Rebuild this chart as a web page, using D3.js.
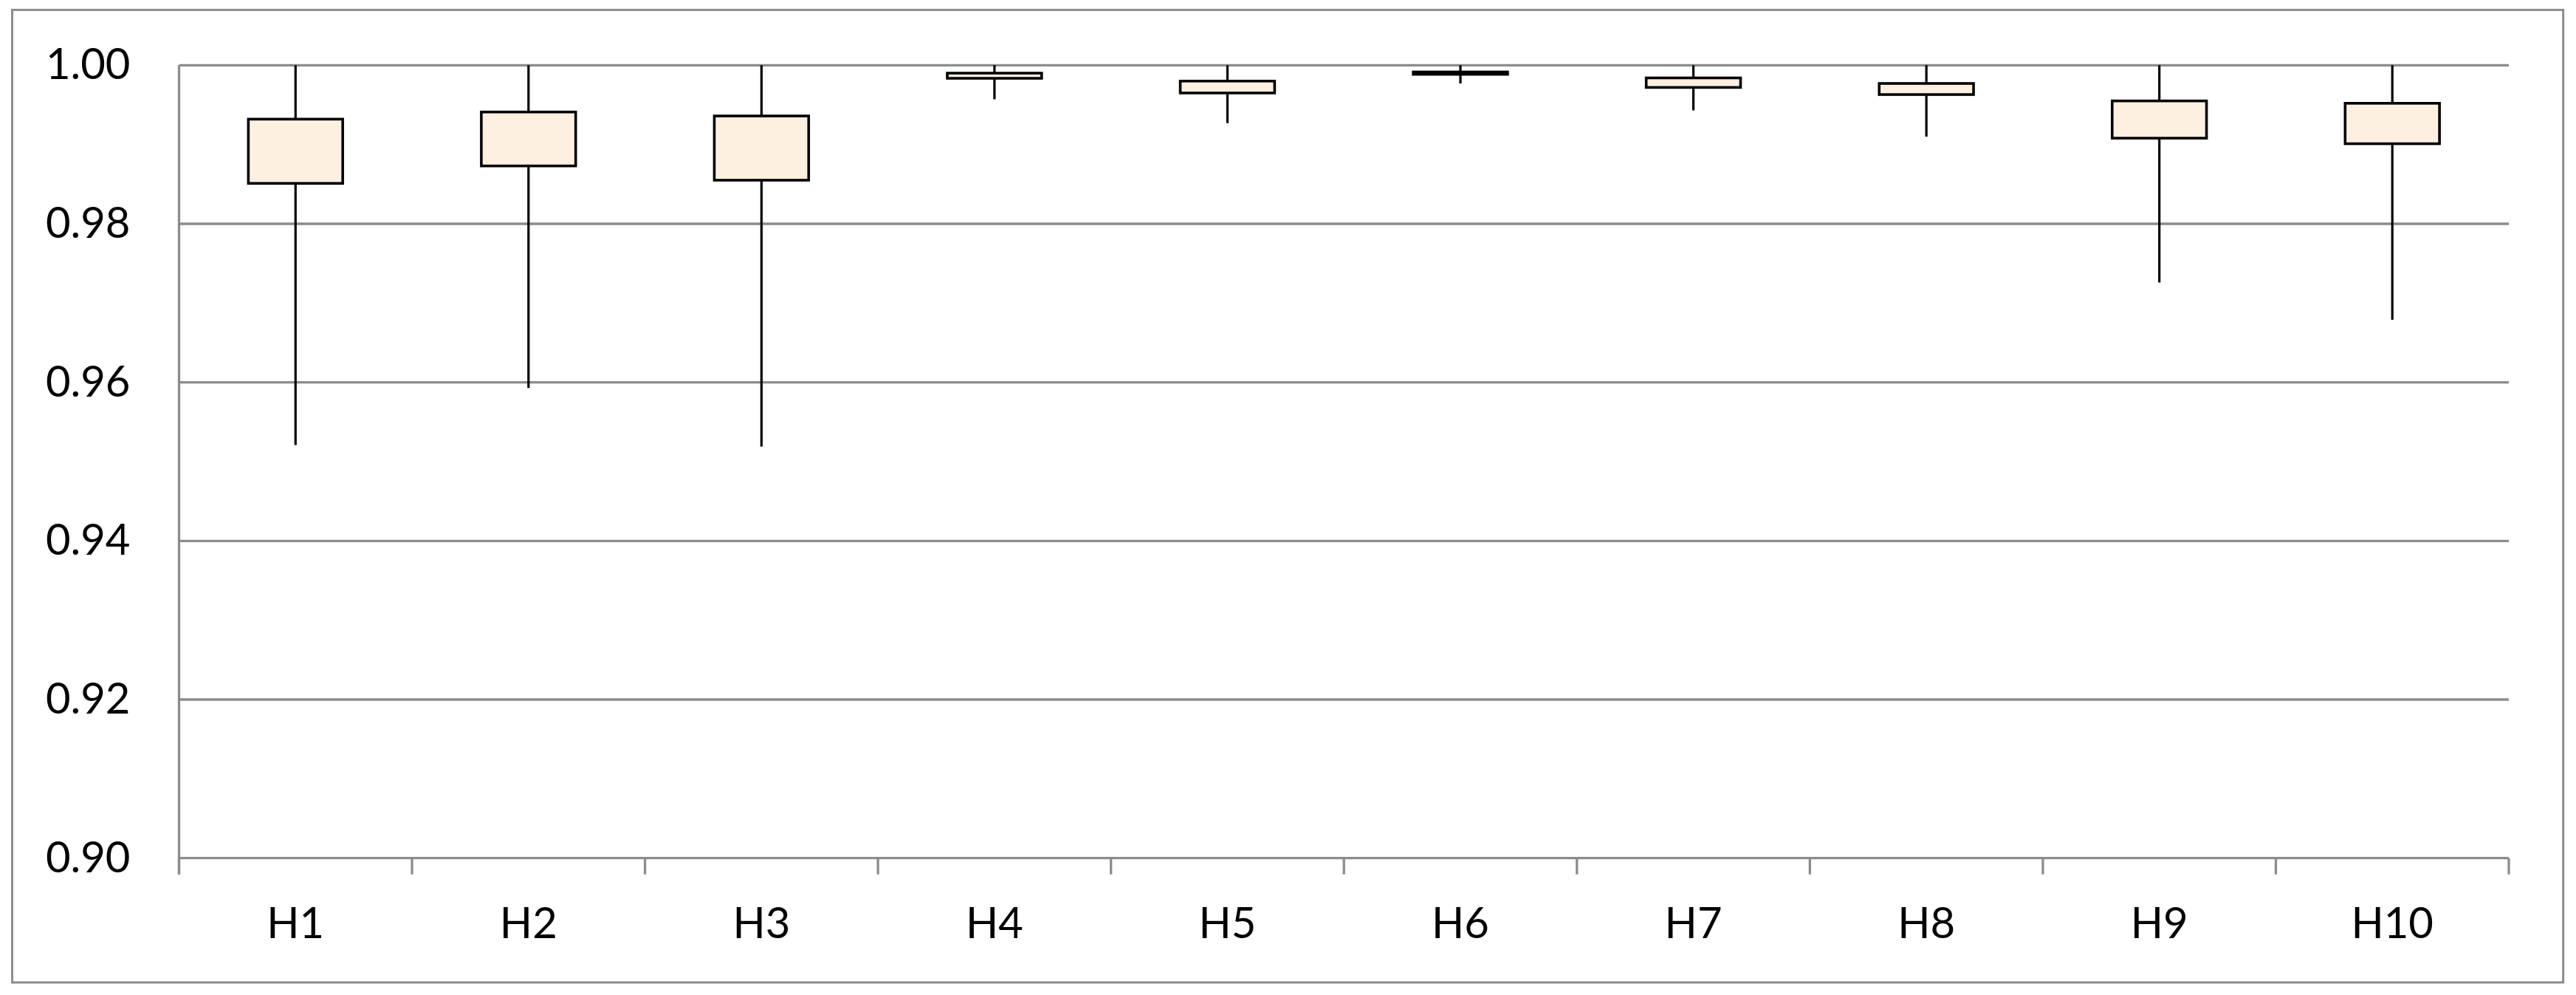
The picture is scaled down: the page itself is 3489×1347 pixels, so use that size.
<!DOCTYPE html>
<html>
<head>
<meta charset="utf-8">
<script src="https://cdn.jsdelivr.net/npm/d3@7"></script>
<style>
    body { margin: 0; background: #ffffff; }
</style>
</head>
<body>
<div id="svg_container"></div>
<script>
// values
const categories = ["H1", "H2", "H3", "H4", "H5", "H6", "H7", "H8", "H9", "H10"];
const maxVals = [1.0, 1.0, 1.0, 1.0, 1.0, 1.0, 1.0, 1.0, 1.0, 1.0];
const q3Vals = [0.9932, 0.9941, 0.9936, 0.9990, 0.9980, 0.99915, 0.9984, 0.9977, 0.9955, 0.9952];
const q1Vals = [0.9851, 0.9873, 0.9855, 0.99835, 0.9965, 0.99885, 0.9972, 0.9963, 0.9908, 0.9901];
const minVals = [0.9521, 0.9593, 0.9519, 0.9957, 0.9927, 0.9977, 0.9943, 0.9910, 0.9726, 0.9679];
const yTicks = [0.90, 0.92, 0.94, 0.96, 0.98, 1.00];

function init() {
    let width = 3489,
        height = 1347,
        plot = {left: 242.5, right: 3398, top: 88.3, bottom: 1161.7};

    const grey = "#8c8c8c";
    const font = "Lato, 'Open Sans', sans-serif";

    let svg = d3.select("#svg_container")
        .append("svg")
        .attr("width", width)
        .attr("height", height)
        .style("display", "block")
        .style("background-color", "#ffffff");

    // chart area border
    svg.append("rect")
        .attr("x", 16.5)
        .attr("y", 13.4)
        .attr("width", 3471.7 - 16.5)
        .attr("height", 1330 - 13.4)
        .attr("fill", "none")
        .attr("stroke", grey)
        .attr("stroke-width", 3);

    let x = d3.scaleBand()
        .domain(categories)
        .range([plot.left, plot.right])
        .paddingInner(0)
        .paddingOuter(0);

    let y = d3.scaleLinear()
        .domain([0.90, 1.00])
        .range([plot.bottom, plot.top]);

    // horizontal gridlines
    svg.append("g")
        .selectAll("line")
        .data(yTicks)
        .enter()
        .append("line")
        .attr("x1", plot.left)
        .attr("x2", plot.right)
        .attr("y1", d => y(d))
        .attr("y2", d => y(d))
        .attr("stroke", grey)
        .attr("stroke-width", 3.3);

    // y axis labels
    let yAxis = svg.append("g")
        .attr("transform", "translate(" + plot.left + ",0)")
        .call(d3.axisLeft(y)
            .tickValues(yTicks)
            .tickFormat(d3.format(".2f"))
            .tickSize(0)
            .tickPadding(66));
    yAxis.select(".domain").remove();
    yAxis.selectAll("text")
        .attr("font-family", font)
        .attr("font-size", "58px")
        .attr("fill", "#000000");

    // vertical axis line
    svg.append("line")
        .attr("x1", plot.left)
        .attr("x2", plot.left)
        .attr("y1", plot.top)
        .attr("y2", plot.bottom + 22)
        .attr("stroke", grey)
        .attr("stroke-width", 3.3);

    // x axis labels
    let xAxis = svg.append("g")
        .attr("transform", "translate(0," + plot.bottom + ")")
        .call(d3.axisBottom(x)
            .tickSize(0)
            .tickPadding(67));
    xAxis.select(".domain").remove();
    xAxis.selectAll("text")
        .attr("font-family", font)
        .attr("font-size", "58px")
        .attr("fill", "#000000");

    // category boundary ticks
    svg.append("g")
        .selectAll("line")
        .data(d3.range(categories.length + 1))
        .enter()
        .append("line")
        .attr("x1", i => plot.left + i * x.step())
        .attr("x2", i => plot.left + i * x.step())
        .attr("y1", plot.bottom)
        .attr("y2", plot.bottom + 22)
        .attr("stroke", grey)
        .attr("stroke-width", 3.3);

    let boxes = categories.map((c, i) => ({
        name: c,
        max: maxVals[i],
        q3: q3Vals[i],
        q1: q1Vals[i],
        min: minVals[i]
    }));

    const boxWidth = x.bandwidth() * 0.405;
    const cx = d => x(d.name) + x.bandwidth() / 2;

    // whiskers
    let g = svg.append("g");
    g.selectAll("line.upper")
        .data(boxes)
        .enter()
        .append("line")
        .attr("class", "upper")
        .attr("x1", cx)
        .attr("x2", cx)
        .attr("y1", d => y(d.max))
        .attr("y2", d => y(d.q3))
        .attr("stroke", "#000000")
        .attr("stroke-width", 3.2);

    g.selectAll("line.lower")
        .data(boxes)
        .enter()
        .append("line")
        .attr("class", "lower")
        .attr("x1", cx)
        .attr("x2", cx)
        .attr("y1", d => y(d.q1))
        .attr("y2", d => y(d.min))
        .attr("stroke", "#000000")
        .attr("stroke-width", 3.2);

    // boxes
    g.selectAll("rect")
        .data(boxes)
        .enter()
        .append("rect")
        .attr("x", d => cx(d) - boxWidth / 2)
        .attr("width", boxWidth)
        .attr("y", d => y(d.q3))
        .attr("height", d => y(d.q1) - y(d.q3))
        .attr("fill", "#fdf0e1")
        .attr("stroke", "#000000")
        .attr("stroke-width", 3.6);
}

init();
</script>
</body>
</html>
